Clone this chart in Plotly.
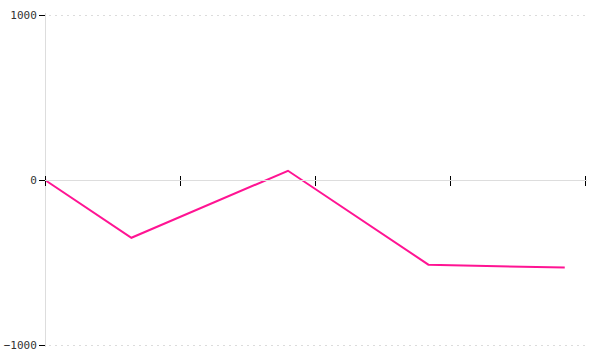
import plotly.graph_objects as go

x_vals = [0, 0.64, 1.80, 2.84, 3.85]
y_vals = [0, -350, 56, -513, -531]
x_ticks = [0, 1, 2, 3, 4]
y_ticks = [-1000, 0, 1000]
y_tick_text = ["\u22121000", "0", "1000"]

# small padding so edge gridlines / inside ticks are not clipped by plotly
x_pad = 4 / 270
y_half = 1000 * 167 / 165

fig = go.Figure()
fig.add_trace(go.Scatter(x=x_vals, y=y_vals, mode="lines",
                         line=dict(color="#FF1493", width=2), hoverinfo="skip"))
fig.add_trace(go.Scatter(x=x_vals, y=y_vals, mode="lines", xaxis="x2",
                         line=dict(color="rgba(0,0,0,0)", width=0), hoverinfo="skip",
                         showlegend=False))

fig.update_layout(
    width=600, height=360,
    margin=dict(l=43, r=13, t=13, b=13),
    paper_bgcolor="white", plot_bgcolor="white",
    showlegend=False,
    font=dict(family="DejaVu Sans Mono", size=11, color="#333333"),
    xaxis=dict(range=[-x_pad, 4 + x_pad], tickvals=x_ticks, showticklabels=False,
               ticks="outside", ticklen=5, tickcolor="black", tickwidth=1,
               showline=True, linecolor="#dddddd", linewidth=1,
               showgrid=False, zeroline=False, automargin=False,
               anchor="free", position=0.5),
    xaxis2=dict(range=[-x_pad, 4 + x_pad], tickvals=x_ticks, showticklabels=False,
                ticks="inside", ticklen=4, tickcolor="black", tickwidth=1,
                showline=False, showgrid=False, zeroline=False, automargin=False,
                overlaying="x", matches="x", anchor="free", position=0.5),
    yaxis=dict(range=[-y_half, y_half], tickvals=y_ticks, ticktext=y_tick_text,
               ticks="outside", ticklen=6, tickcolor="black", tickwidth=1,
               showline=True, linecolor="#dddddd", linewidth=1,
               showgrid=True, gridcolor="#dcdcdc", griddash="2px,4px", gridwidth=1,
               zeroline=False, automargin=False,
               anchor="free", position=2 / 544),
)

fig.write_html("out.html")
